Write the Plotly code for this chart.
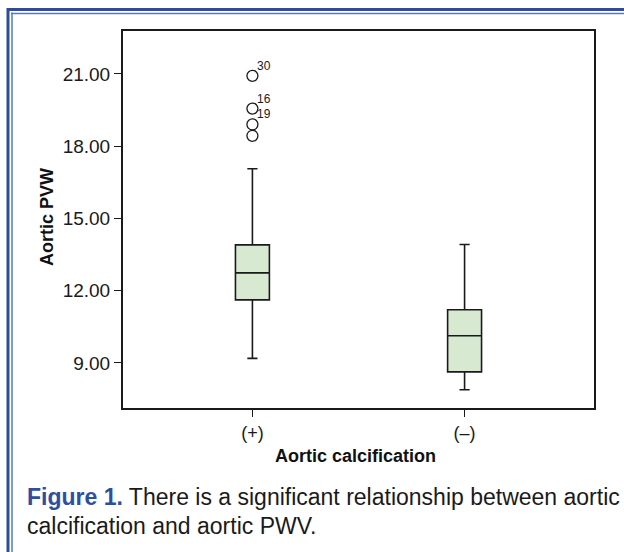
import plotly.graph_objects as go

# ---- data ----
categories = ["(+)", "(–)"]
q1_vals = [11.62, 8.63]
median_vals = [12.74, 10.13]
q3_vals = [13.90, 11.21]
lower_whisker = [9.19, 7.89]
upper_whisker = [17.06, 13.92]

outlier_category = ["(+)", "(+)", "(+)", "(+)"]
outlier_values = [20.92, 19.56, 18.90, 18.43]
outlier_labels = ["30", "16", "19", ""]

y_tick_values = [9, 12, 15, 18, 21]

# ---- layout geometry ----
W, H = 624, 552
L, R, T, B = 123, 30, 31, 144
PW, PH = W - L - R, H - T - B


def px_x(px):
    return (px - L) / PW


def px_y(py):
    return 1 - (py - T) / PH


FONT = "Liberation Sans, Arial, Helvetica, sans-serif"

fig = go.Figure()

fig.add_trace(go.Box(
    x=categories,
    q1=q1_vals,
    median=median_vals,
    q3=q3_vals,
    lowerfence=lower_whisker,
    upperfence=upper_whisker,
    boxpoints=False,
    width=0.16,
    whiskerwidth=0.3,
    fillcolor="#d8e9d2",
    line=dict(color="#1a1a1a", width=1.6),
    showlegend=False,
    hoverinfo="skip",
))

fig.add_trace(go.Scatter(
    x=outlier_category,
    y=outlier_values,
    mode="markers",
    marker=dict(symbol="circle-open", size=11, color="#1a1a1a", line=dict(width=1.3)),
    showlegend=False,
    hoverinfo="skip",
))

annotations = []
for c, v, lab in zip(outlier_category, outlier_values, outlier_labels):
    if lab:
        annotations.append(dict(
            x=c, y=v, xref="x", yref="y", text=lab, showarrow=False,
            xanchor="left", yanchor="middle", xshift=3, yshift=10,
            font=dict(family=FONT, size=12, color="#1a1a1a"),
        ))

# axis titles
annotations.append(dict(
    x=px_x(47), y=px_y(217), xref="paper", yref="paper",
    text="<b>Aortic PVW</b>", textangle=-90, showarrow=False,
    xanchor="center", yanchor="middle",
    font=dict(family=FONT, size=18, color="#111111"),
))
annotations.append(dict(
    x=px_x(355), y=px_y(456), xref="paper", yref="paper",
    text="<b>Aortic calcification</b>", showarrow=False,
    xanchor="center", yanchor="middle",
    font=dict(family=FONT, size=18, color="#111111"),
))

# caption
annotations.append(dict(
    x=px_x(25), y=px_y(497), xref="paper", yref="paper",
    text="<b><span style='color:#2e4f9f'>Figure 1.</span></b> There is a significant relationship between aortic",
    showarrow=False, xanchor="left", yanchor="middle", align="left",
    font=dict(family=FONT, size=23, color="#1a1a1a"),
))
annotations.append(dict(
    x=px_x(25), y=px_y(526), xref="paper", yref="paper",
    text="calcification and aortic PWV.",
    showarrow=False, xanchor="left", yanchor="middle", align="left",
    font=dict(family=FONT, size=23, color="#1a1a1a"),
))

# decorative double blue border (top and left)
shapes = [
    dict(type="line", xref="paper", yref="paper",
         x0=px_x(7), x1=px_x(626), y0=px_y(9.5), y1=px_y(9.5),
         line=dict(color="#2e4c9c", width=3)),
    dict(type="line", xref="paper", yref="paper",
         x0=px_x(11), x1=px_x(626), y0=px_y(13.5), y1=px_y(13.5),
         line=dict(color="#5a78bb", width=1.5)),
    dict(type="line", xref="paper", yref="paper",
         x0=px_x(8), x1=px_x(8), y0=px_y(8), y1=px_y(554),
         line=dict(color="#2e4c9c", width=3)),
    dict(type="line", xref="paper", yref="paper",
         x0=px_x(12), x1=px_x(12), y0=px_y(12.5), y1=px_y(554),
         line=dict(color="#5a78bb", width=1.5)),
]

fig.update_layout(
    width=W, height=H,
    margin=dict(l=L, r=R, t=T, b=B, pad=0),
    paper_bgcolor="white",
    plot_bgcolor="white",
    font=dict(family=FONT, color="#1a1a1a"),
    annotations=annotations,
    shapes=shapes,
    xaxis=dict(
        type="category",
        categoryorder="array", categoryarray=categories,
        range=[-0.61, 1.61],
        showline=True, linecolor="#1a1a1a", linewidth=2, mirror=True,
        ticks="outside", ticklen=7, tickwidth=1, tickcolor="#1a1a1a",
        tickfont=dict(family=FONT, size=18, color="#1a1a1a"),
        showgrid=False, zeroline=False, automargin=False,
    ),
    yaxis=dict(
        range=[7.13, 22.78],
        tickvals=y_tick_values,
        tickformat=".2f",
        showline=True, linecolor="#1a1a1a", linewidth=2, mirror=True,
        ticks="outside", ticklen=7, tickwidth=1, tickcolor="#1a1a1a",
        tickfont=dict(family=FONT, size=19, color="#1a1a1a"),
        showgrid=False, zeroline=False, automargin=False,
    ),
)

fig.write_html(
    "out.html",
    config={"displayModeBar": False},
    post_script="document.body.style.margin='0';document.body.style.overflow='hidden';",
)
